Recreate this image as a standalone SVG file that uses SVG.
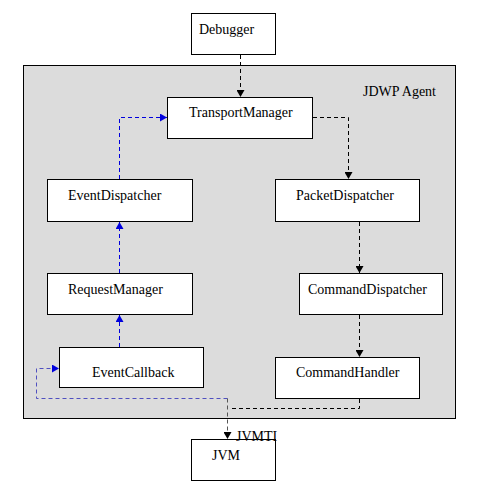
<svg xmlns="http://www.w3.org/2000/svg" width="487" height="490" viewBox="0 0 487 490">
<style>
.box{fill:#fff;stroke:#000;stroke-width:1}
.t{font-family:"Liberation Serif","Times New Roman",serif;font-size:14px;fill:#000}
.k{fill:none;stroke:#000;stroke-width:1;stroke-dasharray:4 3}
.b{fill:none;stroke:#0000dd;stroke-width:1;stroke-dasharray:4 3}
.bl{fill:none;stroke:#5050c0;stroke-width:1;stroke-dasharray:4 3}
.g{fill:none;stroke:#555;stroke-width:1;stroke-dasharray:4 3}
</style>
<defs>
<marker id="ak" markerWidth="7" markerHeight="8" refX="7" refY="4" orient="auto" markerUnits="userSpaceOnUse"><path d="M0,0L7,4L0,8z" fill="#000"/></marker>
<marker id="ab" markerWidth="7" markerHeight="8" refX="7" refY="4" orient="auto" markerUnits="userSpaceOnUse"><path d="M0,0L7,4L0,8z" fill="#0000dd"/></marker>
</defs>
<rect width="487" height="490" fill="#fff"/>
<g id="agent">
<rect x="23.5" y="65.5" width="432" height="353" fill="#dcdcdc" stroke="#000"/>
<text class="t" x="363" y="96">JDWP Agent</text>
</g>
<g id="debugger"><rect class="box" x="191.5" y="13.5" width="84" height="41"/><text class="t" x="199" y="34">Debugger</text></g>
<g id="transportmanager"><rect class="box" x="167.5" y="97.5" width="145" height="41"/><text class="t" x="189" y="117">TransportManager</text></g>
<g id="eventdispatcher"><rect class="box" x="47.5" y="179.5" width="145" height="42"/><text class="t" x="68" y="200">EventDispatcher</text></g>
<g id="packetdispatcher"><rect class="box" x="275.5" y="179.5" width="144" height="42"/><text class="t" x="296" y="200">PacketDispatcher</text></g>
<g id="requestmanager"><rect class="box" x="47.5" y="273.5" width="145" height="41"/><text class="t" x="68" y="294">RequestManager</text></g>
<g id="commanddispatcher"><rect class="box" x="299.5" y="273.5" width="143" height="41"/><text class="t" x="308" y="294">CommandDispatcher</text></g>
<g id="eventcallback"><rect class="box" x="59.5" y="347.5" width="144" height="40"/><text class="t" x="92" y="377">EventCallback</text></g>
<g id="commandhandler"><rect class="box" x="275.5" y="357.5" width="144" height="41"/><text class="t" x="296" y="377">CommandHandler</text></g>
<g id="jvm"><rect class="box" x="191.5" y="439.5" width="84" height="41"/><text class="t" x="212" y="460">JVM</text></g>
<g id="connectors">
<path class="k" d="M240.5,55V97" marker-end="url(#ak)"/>
<path class="k" d="M313,117.5H348.5V179" marker-end="url(#ak)"/>
<path class="k" d="M359.5,222V273" marker-end="url(#ak)"/>
<path class="k" d="M359.5,315V357" marker-end="url(#ak)"/>
<path class="b" d="M119.5,179V117.5H167" marker-end="url(#ab)"/>
<path class="b" d="M119.5,273V222" marker-end="url(#ab)"/>
<path class="b" d="M119.5,347V315" marker-end="url(#ab)"/>
<path class="bl" d="M227.5,398.5H36.5V368.5H59" marker-end="url(#ab)"/>
<path class="k" d="M359.5,399V408.5H231"/>
<path class="g" d="M227.5,398.5V439" marker-end="url(#ak)"/>
<text class="t" x="236" y="441">JVMTI</text>
</g>
</svg>
